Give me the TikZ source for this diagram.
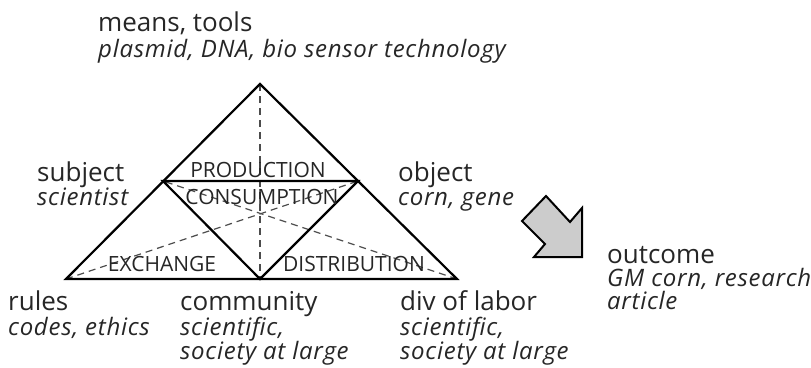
\documentclass[tikz,border=0pt]{standalone}
\usepackage{fontspec}
\setmainfont{Open Sans}
\begin{document}
\begin{tikzpicture}[x=1pt,y=-1pt,
  head/.style={inner sep=0pt,anchor=base west,text=black!85,font=\fontsize{26}{30}\selectfont},
  sub/.style={inner sep=0pt,anchor=base west,text=black!85,font=\fontsize{24}{28}\selectfont\itshape\addfontfeatures{LetterSpace=3}},
  zone/.style={inner sep=0pt,anchor=center,text=black!85,font=\fontsize{21}{25}\selectfont},
  edge/.style={line width=2.2pt,line join=miter},
  median/.style={line width=1.2pt,draw=black!70,dash pattern=on 7pt off 5pt},
  bigarrow/.style={draw=black,line width=2pt,fill=black!20,line join=miter}]
\useasboundingbox (0,0) rectangle (811,367);

% corners of the activity triangle and the midpoints of its sides
\coordinate (top) at (260,84);
\coordinate (bl) at (66,279);
\coordinate (br) at (457,279);
\coordinate (ml) at (163,181);
\coordinate (mr) at (358,181);
\coordinate (mb) at (260,279);

% medians
\draw[median] (top) -- (mb);
\draw[median] (bl) -- (mr);
\draw[median] (br) -- (ml);

% outer triangle and inner triangle
\draw[edge] (top) -- (br) -- (bl) -- cycle;
\draw[edge] (ml) -- (mr) -- (mb) -- cycle;

% sub-triangle labels
\node[zone] (prod) at (258,170) {PRODUCTION};
\node[zone] (cons) at (262,197) {CONSUMPTION};
\node[zone] (exch) at (162,264) {EXCHANGE};
\node[zone] (dist) at (354,264) {DISTRIBUTION};

% corner labels
\node[head] (means) at (98,31) {means, tools};
\node[sub] (meansx) at (98,57) {plasmid, DNA, bio sensor technology};

\node[head] (subj) at (37,181) {subject};
\node[sub] (subjx) at (37,205) {scientist};

\node[head] (obj) at (398,181) {object};
\node[sub] (objx) at (398,205) {corn, gene};

\node[head] (rules) at (8,310) {rules};
\node[sub] (rulesx) at (8,335) {codes, ethics};

\node[head] (comm) at (180,310) {community};
\node[sub] (commx) at (180,335) {scientific,};
\node[sub] (commy) at (180,359) {society at large};

\node[head] (div) at (400,310) {div of labor};
\node[sub] (divx) at (400,335) {scientific,};
\node[sub] (divy) at (400,359) {society at large};

\node[head] (out) at (607,263) {outcome};
\node[sub] (outx) at (607,286) {GM corn, research};
\node[sub] (outy) at (607,309) {article};

% block arrow towards the outcome
\draw[bigarrow] (546,196) -- (522,221) -- (545,244) -- (534,257)
  -- (582,257) -- (582,208) -- (570,222) -- cycle;
\end{tikzpicture}
\end{document}
